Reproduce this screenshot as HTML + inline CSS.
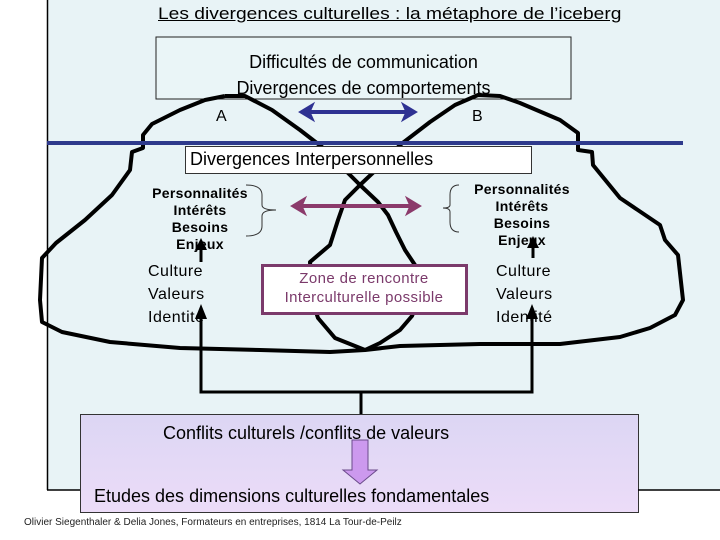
<!DOCTYPE html>
<html><head><meta charset="utf-8"><style>
body{margin:0;width:720px;height:540px;background:#fff;position:relative;overflow:hidden;font-family:"Liberation Sans",sans-serif}
.t{position:absolute;white-space:nowrap}
</style></head><body>
<svg width="720" height="540" style="position:absolute;left:0;top:0">
<defs>
<linearGradient id="pg" x1="0" y1="0" x2="0" y2="1"><stop offset="0" stop-color="#dcd6f4"/><stop offset="1" stop-color="#ecdcf8"/></linearGradient>
</defs>
<rect x="47" y="0" width="680" height="490" fill="#e8f3f6"/>
<line x1="47.5" y1="0" x2="47.5" y2="490" stroke="#000" stroke-width="1.5"/>
<rect x="156" y="37" width="415" height="62" fill="#eaf5f7" stroke="#222" stroke-width="1"/>
<g fill="none" stroke="#000" stroke-width="4" stroke-linejoin="round">
<path d="M225,96 L205,100 L180,110 L152,124 L143,135 L143,148 L132,152 L130,170 L112,195 L85,220 L56,243 L42,258 L40,300 L42,322 L62,332 L110,342 L180,348 L260,350 L330,352 L365,350 L400,346 L480,344 L560,344 L620,337 L650,328 L675,315 L683,300 L678,255 L665,240 L660,225 L620,198 L593,165 L592,152 L578,150 L578,133 L560,120 L520,103 L500,96 L478,95 L455,105 L430,122 L400,145 L378,168 L360,185 L345,200 L338,220 L330,245 L310,262 L312,300 L318,318 L335,338 L365,350"/>
<path d="M225,96 L245,96 L272,110 L300,130 L322,147 L345,170 L360,185 L378,202 L388,215 L396,232 L405,250 L417,268 L418,300 L412,316 L400,330 L380,343 L365,350"/>
</g>
<line x1="47" y1="143" x2="683" y2="143" stroke="#2e3a8c" stroke-width="4"/>
<rect x="185.5" y="146.5" width="346" height="27" fill="#fff" stroke="#333" stroke-width="1"/>
<g stroke="#2e3192" fill="#2e3192"><line x1="308" y1="112" x2="408" y2="112" stroke-width="4"/>
<polygon points="299,112 314,103 310,112 314,121"/><polygon points="417,112 402,103 406,112 402,121"/></g>
<g stroke="#8b3a6b" fill="#8b3a6b"><line x1="300" y1="206" x2="412" y2="206" stroke-width="4"/>
<polygon points="291,206 306,197 302,206 306,215"/><polygon points="421,206 406,197 410,206 406,215"/></g>
<g fill="none" stroke="#333" stroke-width="1">
<path d="M246,185 Q262,185 262,195 L262,205 Q262,210 276,210 Q262,210 262,216 L262,226 Q262,236 246,236"/>
<path d="M459,185 Q450,185 450,195 L450,205 Q450,208 443,208 Q450,208 450,212 L450,222 Q450,232 459,232"/>
</g>
<rect x="262.5" y="265.5" width="204" height="48" fill="#fff" stroke="#7b3a6b" stroke-width="3"/>
<g stroke="#000" stroke-width="3" fill="none">
<polyline points="201,318 201,392 532,392 532,318"/>
<line x1="361" y1="392" x2="361" y2="414"/>
<line x1="201" y1="262" x2="201" y2="246"/>
<line x1="533" y1="258" x2="533" y2="244"/>
</g>
<g fill="#000">
<polygon points="201,304 195,319 207,319"/><polygon points="532,304 526,319 538,319"/>
<polygon points="201,238 195,250 207,250"/><polygon points="533,236 527,248 539,248"/>
</g>
<rect x="80.5" y="414.5" width="558" height="98" fill="url(#pg)" stroke="#333" stroke-width="1"/>
<line x1="47" y1="490" x2="80" y2="490" stroke="#000" stroke-width="1.5"/>
<line x1="638" y1="490" x2="720" y2="490" stroke="#000" stroke-width="1.5"/>
<polygon points="352,440 368,440 368,470 377,470 360,484 343,470 352,470" fill="#cc99ee" stroke="#6a4a8a" stroke-width="1"/>
</svg>
<div class="t" style="left:158px;top:4px;font-size:17px;text-decoration:underline;transform:scaleX(1.13);transform-origin:left">Les divergences culturelles : la métaphore de l’iceberg</div>
<div class="t" style="left:156px;width:415px;top:49px;text-align:center;font-size:18px;line-height:26px">Difficultés de communication<br>Divergences de comportements</div>
<div class="t" style="left:216px;top:108px;font-size:16px">A</div>
<div class="t" style="left:472px;top:108px;font-size:16px">B</div>
<div class="t" style="left:190px;top:149px;font-size:18px">Divergences Interpersonnelles</div>
<div class="t" style="left:140px;width:120px;top:185px;text-align:center;font-size:14px;line-height:17px;font-weight:bold;letter-spacing:0.3px">Personnalités<br>Intérêts<br>Besoins<br>Enjeux</div>
<div class="t" style="left:462px;width:120px;top:181px;text-align:center;font-size:14px;line-height:17px;font-weight:bold;letter-spacing:0.3px">Personnalités<br>Intérêts<br>Besoins<br>Enjeux</div>
<div class="t" style="left:148px;top:260px;font-size:16px;line-height:23px;letter-spacing:0.5px">Culture<br>Valeurs<br>Identité</div>
<div class="t" style="left:496px;top:260px;font-size:16px;line-height:23px;letter-spacing:0.5px">Culture<br>Valeurs<br>Identité</div>
<div class="t" style="left:262px;width:204px;top:269px;text-align:center;font-size:15px;line-height:19px;color:#7b3a6b;letter-spacing:0.4px">Zone de rencontre<br>Interculturelle possible</div>
<div class="t" style="left:163px;top:423px;font-size:18px">Conflits culturels /conflits de valeurs</div>
<div class="t" style="left:94px;top:486px;font-size:18px">Etudes des dimensions culturelles fondamentales</div>
<div class="t" style="left:24px;top:517px;font-size:10px;color:#222">Olivier Siegenthaler &amp; Delia Jones, Formateurs en entreprises, 1814 La Tour-de-Peilz</div>
</body></html>
